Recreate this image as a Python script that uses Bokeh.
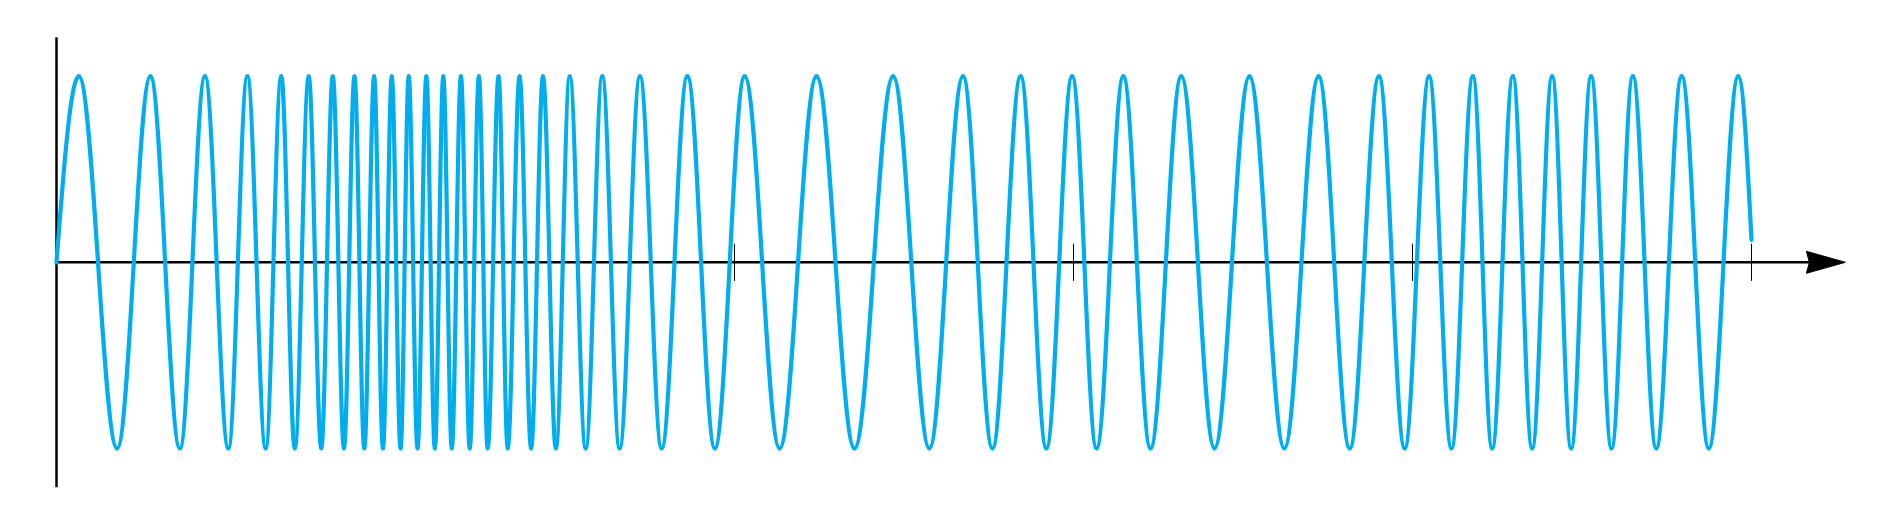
from bokeh.plotting import figure
from bokeh.models import Range1d
from bokeh.embed import file_html
from bokeh.resources import INLINE

# Times (axis units) of the start, every peak / trough, and the end of the curve
wave_t = [0.000, 0.066, 0.179, 0.277, 0.364, 0.438, 0.507, 0.563, 0.617, 0.663,
          0.703, 0.744, 0.781, 0.815, 0.848, 0.879, 0.908, 0.937, 0.963, 0.989,
          1.015, 1.039, 1.065, 1.091, 1.116, 1.141, 1.166, 1.193, 1.219, 1.246,
          1.272, 1.304, 1.331, 1.366, 1.400, 1.435, 1.473, 1.514, 1.561, 1.610,
          1.661, 1.721, 1.785, 1.861, 1.942, 2.030, 2.133, 2.242, 2.354, 2.468,
          2.575, 2.674, 2.761, 2.844, 2.920, 2.996, 3.068, 3.147, 3.227, 3.318,
          3.416, 3.519, 3.622, 3.723, 3.815, 3.901, 3.977, 4.049, 4.115, 4.178,
          4.235, 4.296, 4.353, 4.412, 4.468, 4.527, 4.587, 4.650, 4.719, 4.794,
          4.874, 4.961, 5.000]
# Values at those times
wave_v = [0.0,
          1, -1, 1, -1, 1, -1, 1, -1, 1, -1,
          1, -1, 1, -1, 1, -1, 1, -1, 1, -1,
          1, -1, 1, -1, 1, -1, 1, -1, 1, -1,
          1, -1, 1, -1, 1, -1, 1, -1, 1, -1,
          1, -1, 1, -1, 1, -1, 1, -1, 1, -1,
          1, -1, 1, -1, 1, -1, 1, -1, 1, -1,
          1, -1, 1, -1, 1, -1, 1, -1, 1, -1,
          1, -1, 1, -1, 1, -1, 1, -1, 1, -1,
          1,
          0.12]

tick_t = [2, 3, 4, 5]
tick_half = 0.1
axis_y_extent = 1.21
axis_x_end = 5.277

WIDTH, HEIGHT = 1890, 515

p = figure(width=WIDTH, height=HEIGHT, output_backend="svg", toolbar_location=None,
           x_range=Range1d(-0.16519, 5.41003), y_range=Range1d(-1.36129, 1.40753),
           min_border=0, min_border_left=0, min_border_right=0,
           min_border_top=0, min_border_bottom=0)
p.axis.visible = False
p.grid.visible = False
p.outline_line_color = None
p.background_fill_color = "white"
p.border_fill_color = "white"

# axes
p.segment(x0=[0], y0=[-axis_y_extent], x1=[0], y1=[axis_y_extent],
          line_color="black", line_width=2.5)
p.segment(x0=[0], y0=[0], x1=[axis_x_end - 0.05], y1=[0],
          line_color="black", line_width=2.5)
# arrow head (pixel sizes converted to data units)
px_x = 1 / 339.0
px_y = 1 / 186.0
p.patch(x=[axis_x_end, axis_x_end - 39 * px_x, axis_x_end - 36 * px_x, axis_x_end - 39 * px_x],
        y=[0, 11 * px_y, 0, -11 * px_y],
        fill_color="black", line_color="black", line_width=1)
# ticks
p.segment(x0=tick_t, y0=[-tick_half] * len(tick_t), x1=tick_t, y1=[tick_half] * len(tick_t),
          line_color="black", line_width=1)

# wave drawn as cubic bezier pieces between consecutive extrema
K = 0.3634  # 1 - 2/pi: cosine half-cycle approximation
x0s, y0s, x1s, y1s, cx0s, cy0s, cx1s, cy1s = [], [], [], [], [], [], [], []
n = len(wave_t)
for i in range(n - 1):
    t0, v0, t1, v1 = wave_t[i], wave_v[i], wave_t[i + 1], wave_v[i + 1]
    dt = t1 - t0
    if i == 0:
        c0 = (t0 + 0.3261 * dt, v0 + 0.5123 * (v1 - v0))
        c1 = (t0 + 0.6381 * dt, v1)
    elif i == n - 2:
        c0 = (t0 + 0.3619 * dt, v0)
        c1 = (t0 + 0.6739 * dt, v1 + 0.5123 * (v0 - v1))
    else:
        c0 = (t0 + K * dt, v0)
        c1 = (t1 - K * dt, v1)
    x0s.append(t0); y0s.append(v0); x1s.append(t1); y1s.append(v1)
    cx0s.append(c0[0]); cy0s.append(c0[1]); cx1s.append(c1[0]); cy1s.append(c1[1])

p.bezier(x0=x0s, y0=y0s, x1=x1s, y1=y1s, cx0=cx0s, cy0=cy0s, cx1=cx1s, cy1=cy1s,
         line_color="#00AEEF", line_width=4.2, line_cap="round")

open("out.html", "w").write(file_html(p, INLINE))
